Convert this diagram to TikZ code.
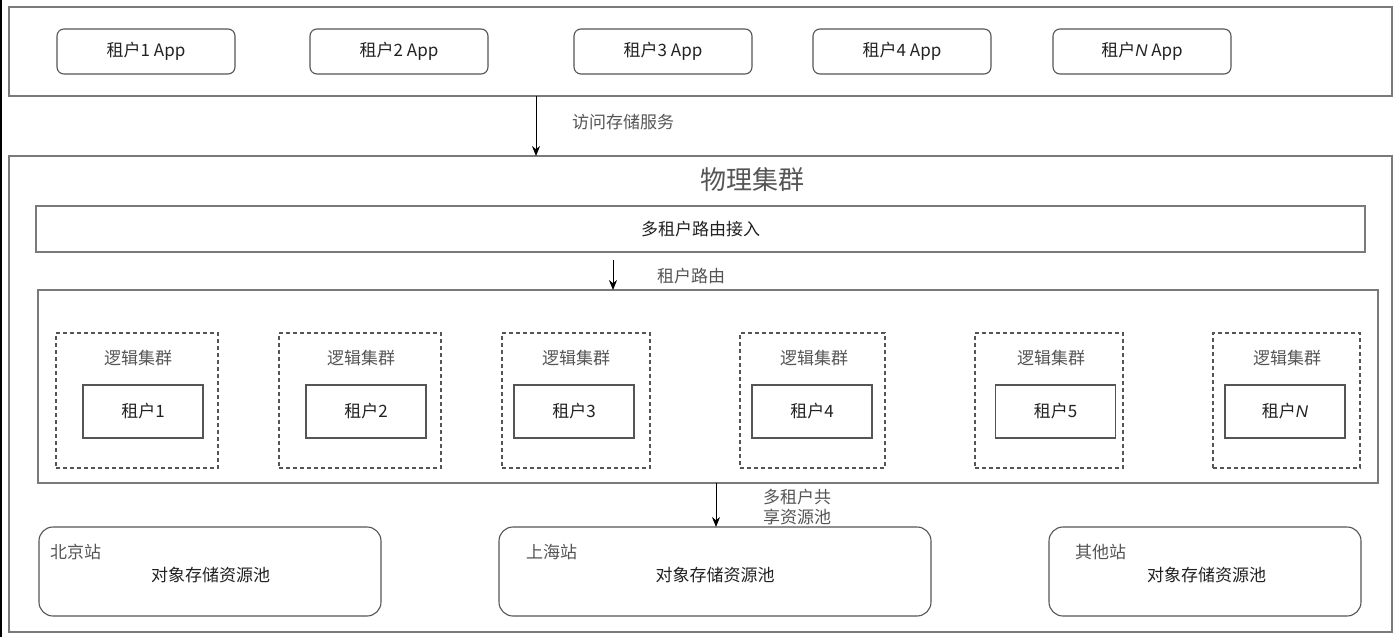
\documentclass[tikz,border=0pt]{standalone}
\usepackage{fontspec}
\setmainfont{Noto Sans CJK SC}
\newfontfamily\latinfont{Liberation Sans}
\usetikzlibrary{arrows.meta}
\definecolor{linegray}{HTML}{7A7A7A}
\definecolor{boxgray}{HTML}{555555}
\definecolor{txtdark}{HTML}{222222}
\definecolor{txtlight}{HTML}{555555}
\newcommand{\itN}{{\latinfont\itshape N}}
\tikzset{
  base/.style={font=\fontsize{17}{20}\selectfont, text=txtdark},
  bigbox/.style={draw=linegray, line width=1.3pt, inner sep=0pt, outer sep=0pt},
  appbox/.style={base, draw=boxgray, line width=1.1pt, rounded corners=7pt, inner sep=0pt, outer sep=0pt, minimum width=178pt, minimum height=45pt},
  dashbox/.style={draw=boxgray, line width=1.1pt, dashed, dash pattern=on 4pt off 3pt, inner sep=0pt, outer sep=0pt, minimum width=148pt, minimum height=135pt},
  tenbox/.style={base, draw=boxgray, line width=1.3pt, inner sep=0pt, outer sep=0pt, minimum width=120pt, minimum height=53pt},
  poolbox/.style={draw=boxgray, line width=1.1pt, rounded corners=14pt, inner sep=0pt, outer sep=0pt, minimum height=89pt},
  lbl/.style={base, text=txtlight, inner sep=0pt},
  txt/.style={base, inner sep=0pt},
  arr/.style={draw=black, line width=1pt, -{Stealth[length=10pt,width=8pt]}}
}
\begin{document}
\begin{tikzpicture}[x=1pt,y=-1pt]
\useasboundingbox[fill=white] (0,0) rectangle (1400,637);
\draw[black, line width=2pt] (1,0) -- (1,637);
% top apps
\node[bigbox, minimum width=1383pt, minimum height=89pt] (top) at (700.5,51.5) {};
\node[appbox] (a1) at (146,51.5) {租户1 App};
\node[appbox] (a2) at (399,51.5) {租户2 App};
\node[appbox] (a3) at (663,51.5) {租户3 App};
\node[appbox] (a4) at (902,51.5) {租户4 App};
\node[appbox] (a5) at (1142,51.5) {租户\itN\ App};
% physical cluster
\node[bigbox, minimum width=1383pt, minimum height=476pt] (phys) at (700.5,394) {};
\node[txt, font=\fontsize{26}{30}\selectfont, text=txtlight] (ptitle) at (752,180) {物理集群};
\coordinate (t1) at (536,96);
\draw[arr] (t1) -- (t1 |- phys.north);
\node[lbl, anchor=west] (l1) at (572,122) {访问存储服务};
\node[bigbox, base, minimum width=1329pt, minimum height=46pt] (route) at (700.5,229) {多租户路由接入};
\node[bigbox, minimum width=1340pt, minimum height=193pt] (inner) at (708,386.5) {};
\coordinate (r1) at (613,260);
\draw[arr] (r1) -- (r1 |- inner.north);
\node[lbl, anchor=west] (l2) at (657,276) {租户路由};
% logical clusters
\node[dashbox, minimum width=162pt] (d1) at (137,400.5) {};
\node[dashbox, minimum width=162pt] (d2) at (360,400.5) {};
\node[dashbox, minimum width=148pt] (d3) at (576,400.5) {};
\node[dashbox, minimum width=145pt] (d4) at (812.5,400.5) {};
\node[dashbox, minimum width=148pt] (d5) at (1049,400.5) {};
\node[dashbox, minimum width=147pt] (d6) at (1286.5,400.5) {};
\foreach \i/\x in {1/138,2/361,3/576,4/814,5/1051,6/1287}{
  \node[lbl] (g\i) at (\x,358) {逻辑集群};
}
\node[tenbox] (t1b) at (143,411.5) {租户1};
\node[tenbox] (t2b) at (366,411.5) {租户2};
\node[tenbox] (t3b) at (574,411.5) {租户3};
\node[tenbox] (t4b) at (812,411.5) {租户4};
\node[tenbox] (t5b) at (1055.5,411.5) {租户5};
\node[tenbox] (t6b) at (1285,411.5) {租户\itN};
% pools
\node[poolbox, minimum width=342pt] (p1) at (210,571.5) {};
\node[poolbox, minimum width=432pt] (p2) at (715,571.5) {};
\node[poolbox, minimum width=312pt] (p3) at (1205,571.5) {};
\coordinate (s1) at (716,483);
\draw[arr] (s1) -- (s1 |- p2.north);
\node[lbl, align=center, font=\fontsize{17}{20}\selectfont] (l3) at (797,507) {多租户共\\享资源池};
\node[lbl, anchor=west] (n1) at (50,552) {北京站};
\node[lbl, anchor=west] (n2) at (526,552) {上海站};
\node[lbl, anchor=west] (n3) at (1075,552) {其他站};
\node[txt] (o1) at (210.5,575) {对象存储资源池};
\node[txt] (o2) at (715,575) {对象存储资源池};
\node[txt] (o3) at (1206.5,575) {对象存储资源池};
\end{tikzpicture}
\end{document}
